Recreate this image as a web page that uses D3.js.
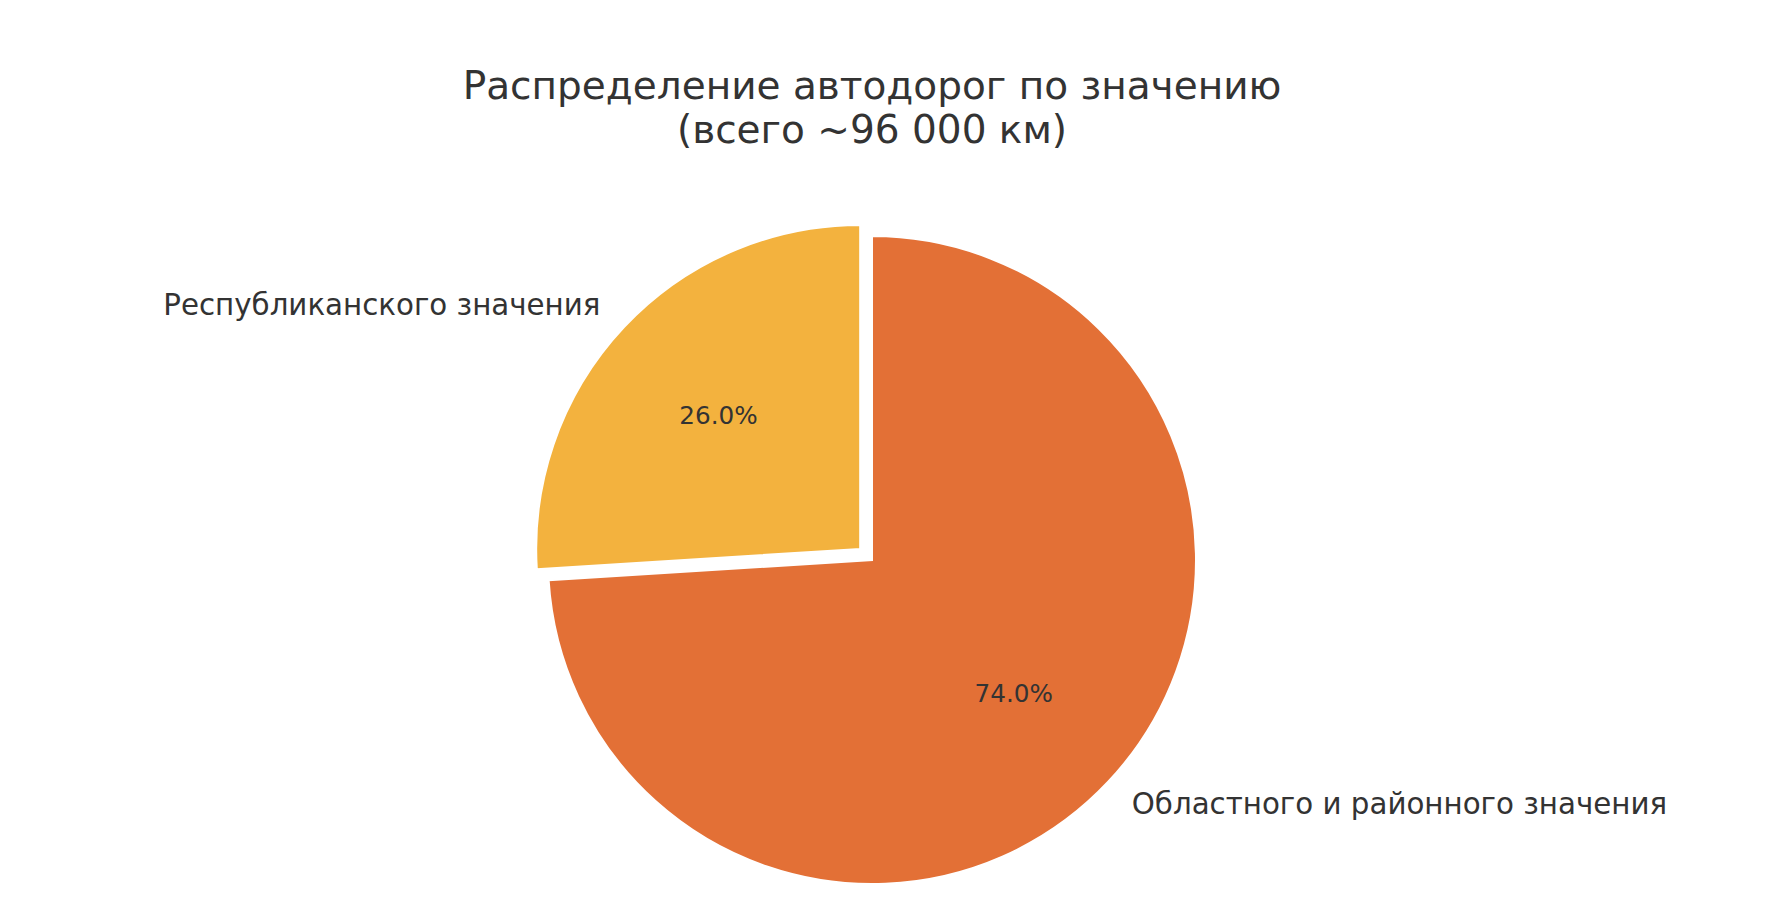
<!DOCTYPE html>
<html>
<head>
<meta charset="utf-8">
<script src="https://cdn.jsdelivr.net/npm/d3@7"></script>
<style>
  body { margin: 0; background: #fff; }
  text { font-family: "DejaVu Sans", sans-serif; fill: #333333; }
</style>
</head>
<body>
<div id="chart"></div>
<script>
var width = 1788;
var height = 922;

// data
var categories = ["Республиканского значения", "Областного и районного значения"];
var shares = [26.0, 74.0];
var colors = ["#F3B23E", "#E37036"];
var explode = [0.05, 0];
var titleLines = ["Распределение автодорог по значению", "(всего ~96 000 км)"];

var svg = d3
	.select("#chart")
	.append("svg")
	.attr("width", width)
	.attr("height", height);

var cx = 872;
var cy = 560;
var radius = 324;

// title
svg
	.append("g")
	.selectAll("text")
	.data(titleLines)
	.enter()
	.append("text")
	.attr("x", cx)
	.attr("y", (d, i) => 99 + i * 44)
	.attr("text-anchor", "middle")
	.attr("font-size", "39px")
	.text((d) => d);

var rows = categories.map((c, i) => ({
	name: c,
	value: shares[i],
	color: colors[i],
	explode: explode[i],
}));

// counterclockwise from the top, like startangle=90
var pie = d3
	.pie()
	.sort(null)
	.value((d) => d.value)
	.startAngle(0)
	.endAngle(-2 * Math.PI);

var arc = d3.arc().innerRadius(0).outerRadius(radius);

var arcs = pie(rows);

function dir(d) {
	var a = (d.startAngle + d.endAngle) / 2;
	return [Math.sin(a), -Math.cos(a)];
}

var chartGroup = svg
	.append("g")
	.attr("transform", `translate(${cx},${cy})`);

var slices = chartGroup
	.selectAll("g.slice")
	.data(arcs)
	.enter()
	.append("g")
	.attr("class", "slice")
	.attr("transform", function (d) {
		var v = dir(d);
		var off = d.data.explode * radius;
		return `translate(${v[0] * off},${v[1] * off})`;
	});

slices
	.append("path")
	.attr("d", arc)
	.attr("fill", (d) => d.data.color)
	.attr("stroke", "#fff")
	.attr("stroke-width", 2);

// percent labels
slices
	.append("text")
	.attr("x", (d) => dir(d)[0] * radius * 0.6)
	.attr("y", (d) => dir(d)[1] * radius * 0.6)
	.attr("text-anchor", "middle")
	.attr("dominant-baseline", "central")
	.attr("font-size", "24.7px")
	.text((d) => d.data.value.toFixed(1) + "%");

// category labels
slices
	.append("text")
	.attr("x", (d) => dir(d)[0] * radius * 1.1)
	.attr("y", (d) => dir(d)[1] * radius * 1.1)
	.attr("text-anchor", (d) => (dir(d)[0] < 0 ? "end" : "start"))
	.attr("dominant-baseline", "central")
	.attr("font-size", "29.3px")
	.text((d) => d.data.name);
</script>
</body>
</html>
